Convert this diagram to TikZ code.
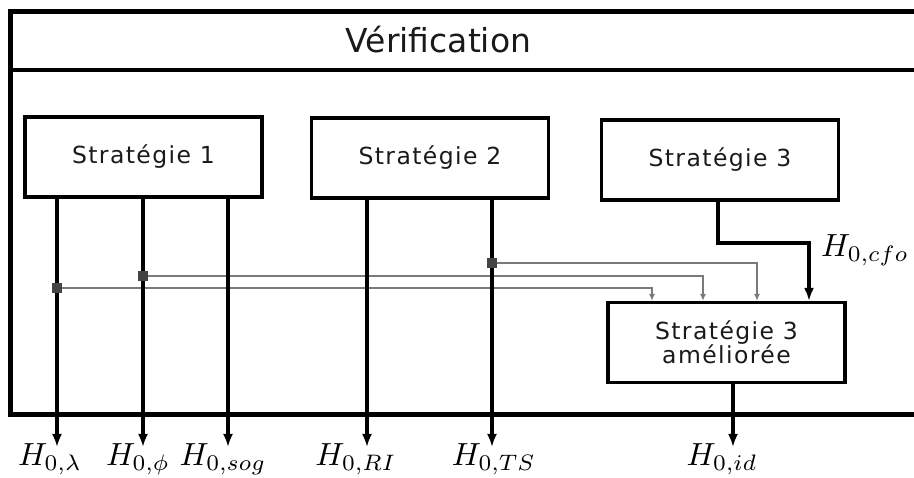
\documentclass[tikz,border=0pt]{standalone}
\usepackage{graphicx}
\usepackage{fontspec}
\newfontfamily\boxfont[LetterSpace=6]{DejaVu Sans}
\newfontfamily\titlefont{DejaVu Sans}
\usetikzlibrary{arrows.meta}
\definecolor{linegray}{HTML}{7A7A7A}
\definecolor{junc}{HTML}{444444}
\definecolor{txt}{HTML}{1A1A1A}
\newcommand{\hbig}[1]{\scalebox{3.2}{$#1$}}
\tikzset{
  stratbox/.style={draw=black, line width=3.2pt, fill=white, minimum width=237pt, minimum height=80pt,
    inner sep=0pt, align=center, text=txt, font=\boxfont\fontsize{23.5}{25}\selectfont},
  barr/.style={line width=3.2pt, -{Latex[length=13pt,width=10pt]}},
  garr/.style={draw=linegray, line width=2pt, -{Latex[length=7pt,width=6pt]}},
  hlabel/.style={anchor=base, inner sep=0pt},
  jsq/.style={fill=junc, minimum size=10pt, inner sep=0pt}
}
\begin{document}
\begin{tikzpicture}[x=1pt,y=-1pt]
\path[use as bounding box] (0,0) rectangle (914,478);
\clip (0,0) rectangle (914,478);
% frame
\draw[line width=5pt] (930,11.5) -- (10.5,11.5) -- (10.5,414.5) -- (930,414.5);
\draw[line width=4pt] (10.5,70) -- (930,70);
\node[anchor=base, inner sep=0pt, text=txt, font=\titlefont\fontsize{33}{36}\selectfont] (title) at (438.5,53) {Vérification};
% boxes
\node[stratbox] (s1) at (143.5,157) {Stratégie 1};
\node[stratbox] (s2) at (430,158) {Stratégie 2};
\node[stratbox] (s3) at (720,160) {Stratégie 3};
\node[stratbox] (s3a) at (726.5,342.5) {Stratégie 3\\[-1pt]améliorée};
% end coordinates
\coordinate (e1) at (57,447);
\coordinate (e2) at (143,447);
\coordinate (e3) at (228,447);
\coordinate (e4) at (367,447);
\coordinate (e5) at (492,447);
\coordinate (e6) at (733,447);
% gray feed lines (drawn first)
\node[jsq] (j1) at (57,288) {};
\node[jsq] (j2) at (143,276) {};
\node[jsq] (j3) at (492,263) {};
\draw[garr] (j1.center) -| ([xshift=-74.5pt]s3a.north);
\draw[garr] (j2.center) -| ([xshift=-23.5pt]s3a.north);
\draw[garr] (j3.center) -| ([xshift=30.5pt]s3a.north);
% black arrows
\draw[barr] (s1.south -| e1) -- (e1);
\draw[barr] (s1.south -| e2) -- (e2);
\draw[barr] (s1.south -| e3) -- (e3);
\draw[barr] (s2.south -| e4) -- (e4);
\draw[barr] (s2.south -| e5) -- (e5);
\draw[barr] (s3a.south -| e6) -- (e6);
\coordinate (bend) at (809,243);
\draw[barr] ([xshift=-2pt]s3.south) |- (bend) -- ([xshift=82.5pt]s3a.north);
% junction squares on top
\node[jsq] at (j1) {};
\node[jsq] at (j2) {};
\node[jsq] at (j3) {};
% labels
\node[hlabel] (l1) at (50,466) {\hbig{H_{0,\lambda}}};
\node[hlabel] (l2) at (138,466) {\hbig{H_{0,\phi}}};
\node[hlabel] (l3) at (223,466) {\hbig{H_{0,sog}}};
\node[hlabel] (l4) at (356,466) {\hbig{H_{0,RI}}};
\node[hlabel] (l5) at (494,466) {\hbig{H_{0,TS}}};
\node[hlabel] (l6) at (722,466) {\hbig{H_{0,id}}};
\node[hlabel] (l7) at (865,257) {\hbig{H_{0,cfo}}};
\end{tikzpicture}
\end{document}
